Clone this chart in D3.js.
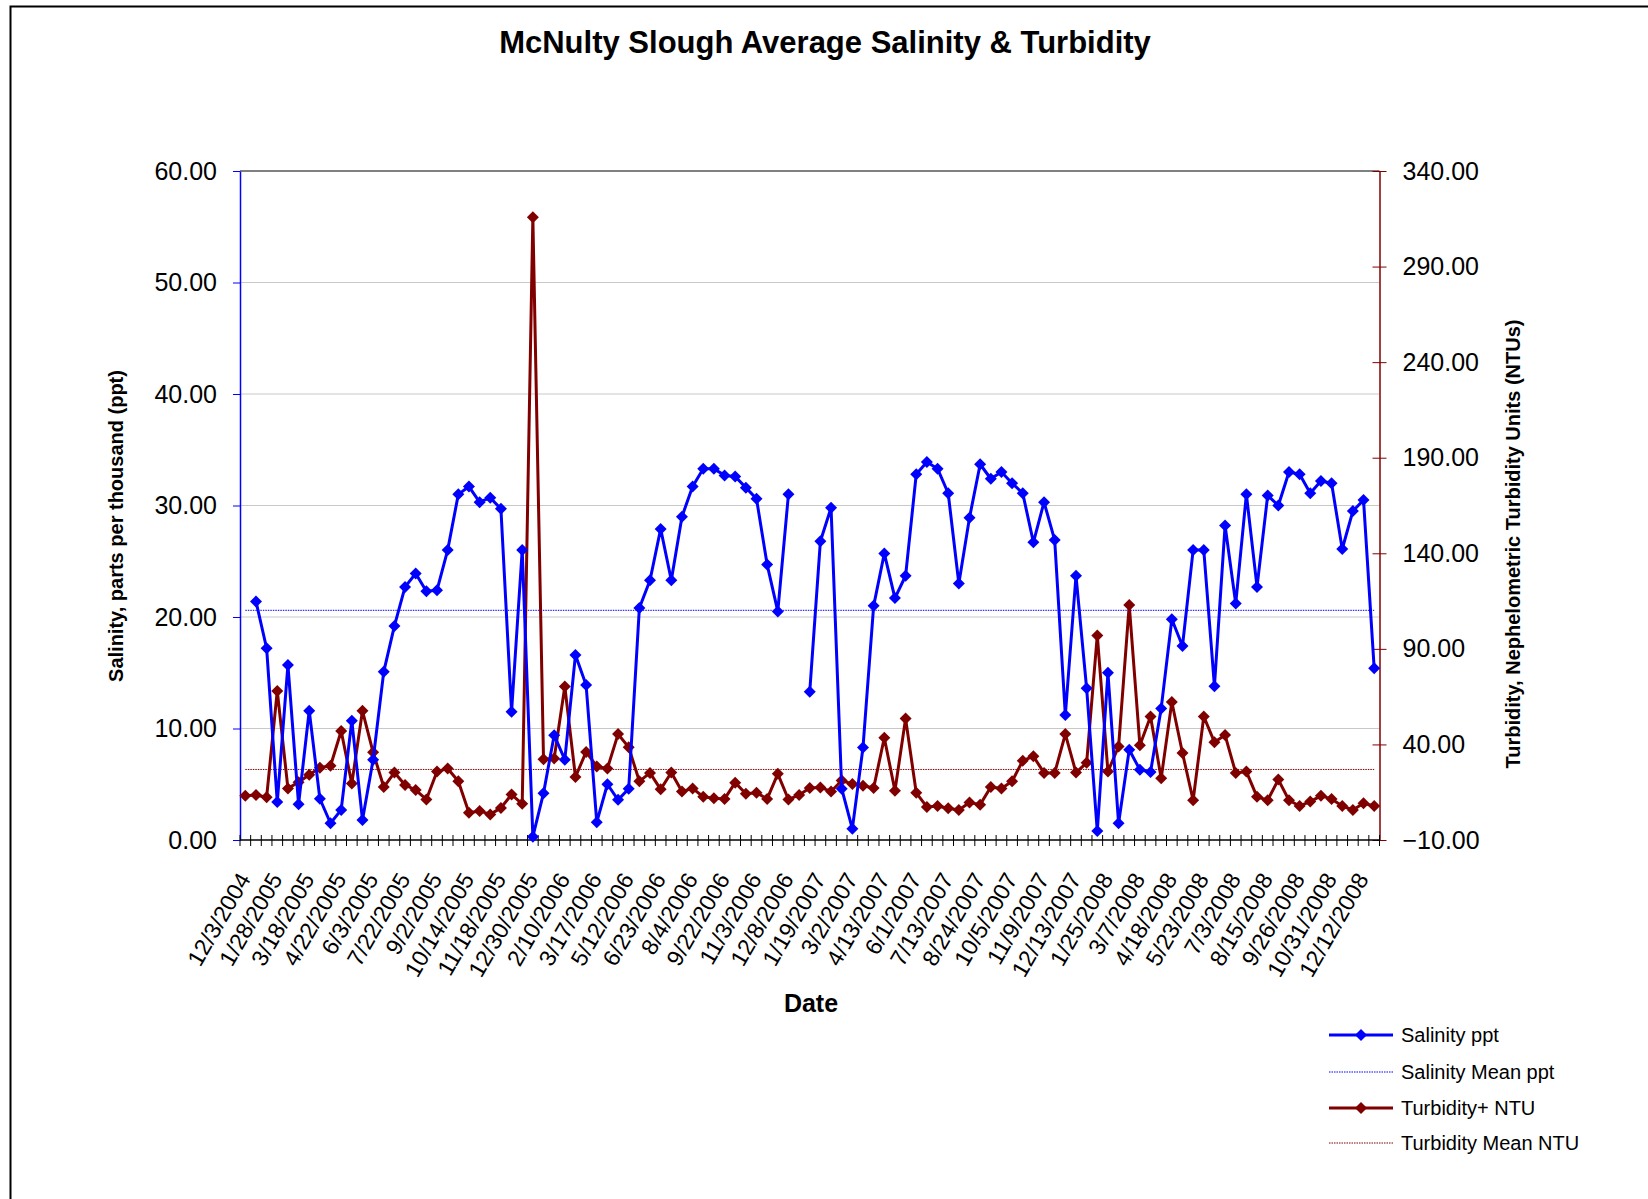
<!DOCTYPE html>
<html>
<head>
<meta charset="utf-8">
<script src="https://cdn.jsdelivr.net/npm/d3@7"></script>
<style>
body { margin: 0; background: #fff; }
text { font-family: "Liberation Sans", Arial, sans-serif; fill: #000; }
</style>
</head>
<body>
<script>
// labels shown on the date axis (every 3rd sample)
var tickLabels = ['12/3/2004', '1/28/2005', '3/18/2005', '4/22/2005', '6/3/2005', '7/22/2005',
  '9/2/2005', '10/14/2005', '11/18/2005', '12/30/2005', '2/10/2006', '3/17/2006',
  '5/12/2006', '6/23/2006', '8/4/2006', '9/22/2006', '11/3/2006', '12/8/2006',
  '1/19/2007', '3/2/2007', '4/13/2007', '6/1/2007', '7/13/2007', '8/24/2007',
  '10/5/2007', '11/9/2007', '12/13/2007', '1/25/2008', '3/7/2008', '4/18/2008',
  '5/23/2008', '7/3/2008', '8/15/2008', '9/26/2008', '10/31/2008', '12/12/2008'];

// salinity, ppt (null = no sample)
var salinity = [null, 21.4, 17.2, 3.4, 15.7, 3.2, 11.6, 3.7, 1.5, 2.7,
  10.7, 1.8, 7.2, 15.1, 19.2, 22.7, 23.9, 22.3, 22.4, 26.0,
  31.0, 31.7, 30.3, 30.7, 29.7, 11.5, 26.0, 0.3, 4.2, 9.4,
  7.2, 16.6, 13.9, 1.6, 5.0, 3.6, 4.6, 20.8, 23.3, 27.9,
  23.3, 29.0, 31.7, 33.3, 33.3, 32.7, 32.6, 31.6, 30.6, 24.7,
  20.5, 31.0, null, 13.3, 26.8, 29.8, 4.6, 1.0, 8.3, 21.0,
  25.7, 21.7, 23.7, 32.8, 33.9, 33.3, 31.1, 23.0, 28.9, 33.7,
  32.4, 33.0, 32.0, 31.1, 26.7, 30.3, 26.9, 11.2, 23.7, 13.6,
  0.8, 15.0, 1.5, 8.1, 6.3, 6.1, 11.8, 19.8, 17.4, 26.0,
  26.0, 13.8, 28.2, 21.2, 31.0, 22.7, 30.9, 30.0, 33.0, 32.8,
  31.1, 32.2, 32.0, 26.1, 29.5, 30.5, 15.4];

// turbidity, NTU
var turbidity = [13.1, 13.5, 12.4, 68.0, 17.0, 20.2, 24.1, 27.8, 28.8, 47.0,
  19.5, 57.6, 35.9, 17.7, 25.3, 18.8, 16.1, 11.2, 25.8, 27.4,
  20.7, 4.3, 5.2, 3.4, 6.8, 13.8, 8.9, 315.8, 32.2, 32.7,
  70.3, 23.0, 36.1, 28.5, 27.4, 45.4, 38.5, 20.7, 25.1, 16.5,
  25.3, 15.4, 17.0, 12.6, 11.9, 11.5, 20.0, 14.2, 14.7, 11.5,
  24.6, 11.2, 13.5, 17.2, 17.5, 15.4, 21.1, 19.3, 18.4, 17.2,
  43.5, 15.8, 53.5, 14.7, 7.3, 7.8, 6.6, 5.7, 9.6, 8.5,
  17.7, 17.0, 20.7, 31.5, 33.8, 25.1, 25.1, 45.4, 25.3, 30.4,
  97.0, 25.8, 38.9, 113.0, 39.6, 54.6, 22.3, 62.2, 35.5, 10.8,
  54.6, 41.2, 44.9, 25.1, 25.8, 12.6, 10.8, 21.6, 10.8, 7.8,
  10.1, 13.1, 11.5, 7.8, 5.7, 9.2, 7.8];

var salinityMean = 20.6;
var turbidityMean = 26.9;

var leftTicks = [0, 10, 20, 30, 40, 50, 60];
var rightTicks = [-10, 40, 90, 140, 190, 240, 290, 340];

const width = 1648, height = 1199;
const plot = { left: 240, right: 1379.5, top: 171, bottom: 840 };
const BLUE = '#0000ff', RED = '#800000';

var svg = d3.select('body').append('svg')
  .attr('width', width)
  .attr('height', height);

// outer chart frame (runs off the page to the right and bottom)
svg.append('rect')
  .attr('x', 10.5).attr('y', 6.5)
  .attr('width', 1700).attr('height', 1300)
  .attr('fill', 'none').attr('stroke', '#000').attr('stroke-width', 2);

var cats = d3.range(salinity.length);
var x = d3.scaleBand().domain(cats).range([plot.left, plot.right]);
var cx = (i) => x(i) + x.bandwidth() / 2;
var yL = d3.scaleLinear().domain([0, 60]).range([plot.bottom, plot.top]);
var yR = d3.scaleLinear().domain([-10, 340]).range([plot.bottom, plot.top]);

// gridlines
svg.append('g').selectAll('line')
  .data(leftTicks.slice(1, -1))
  .enter().append('line')
  .attr('x1', plot.left).attr('x2', plot.right)
  .attr('y1', (d) => yL(d)).attr('y2', (d) => yL(d))
  .attr('stroke', '#c8c8c8').attr('stroke-width', 1);

svg.append('line')
  .attr('x1', plot.left).attr('x2', plot.right)
  .attr('y1', yL(60)).attr('y2', yL(60))
  .attr('stroke', '#808080').attr('stroke-width', 2);

// mean lines
svg.append('line')
  .attr('x1', cx(0)).attr('x2', cx(cats.length - 1))
  .attr('y1', yL(salinityMean)).attr('y2', yL(salinityMean))
  .attr('stroke', BLUE).attr('stroke-width', 1).attr('stroke-dasharray', '1.5,1');

svg.append('line')
  .attr('x1', cx(0)).attr('x2', cx(cats.length - 1))
  .attr('y1', yR(turbidityMean)).attr('y2', yR(turbidityMean))
  .attr('stroke', RED).attr('stroke-width', 1).attr('stroke-dasharray', '1.5,1');

// left axis
var axL = svg.append('g')
  .attr('transform', `translate(${plot.left},0)`)
  .call(d3.axisLeft(yL).tickValues(leftTicks).tickFormat(d3.format('.2f'))
    .tickSize(7).tickPadding(16).tickSizeOuter(0));
axL.select('.domain').attr('stroke', BLUE).attr('stroke-width', 1.5);
axL.selectAll('.tick line').attr('stroke', BLUE);
axL.selectAll('.tick text').attr('font-size', 25).attr('fill', '#000');

// right axis
var axR = svg.append('g')
  .attr('transform', `translate(${plot.right},0)`)
  .call(d3.axisRight(yR).tickValues(rightTicks).tickFormat(d3.format('.2f'))
    .tickSize(7).tickPadding(16).tickSizeOuter(0));
axR.select('.domain').attr('stroke', RED).attr('stroke-width', 1.5);
axR.selectAll('.tick line').attr('stroke', RED).attr('x1', -7);
axR.selectAll('.tick text').attr('font-size', 25).attr('fill', '#000');

// bottom category axis
var axB = svg.append('g');
axB.append('line')
  .attr('x1', plot.left).attr('x2', plot.right)
  .attr('y1', plot.bottom).attr('y2', plot.bottom)
  .attr('stroke', '#000').attr('stroke-width', 1.5);
axB.selectAll('.tk')
  .data(d3.range(cats.length + 1))
  .enter().append('line')
  .attr('class', 'tk')
  .attr('x1', (i) => plot.left + i * x.step()).attr('x2', (i) => plot.left + i * x.step())
  .attr('y1', plot.bottom - 5).attr('y2', plot.bottom + 6)
  .attr('stroke', '#000').attr('stroke-width', 1);
axB.selectAll('.lbl')
  .data(tickLabels)
  .enter().append('text')
  .attr('class', 'lbl')
  .attr('transform', (d, k) => `translate(${cx(k * 3) - 1},${plot.bottom + 35}) rotate(-60)`)
  .attr('text-anchor', 'end')
  .attr('dy', '0.35em')
  .attr('font-size', 23)
  .text((d) => d);

// series
var diamond = 'M0,-6L6,0L0,6L-6,0Z';

svg.append('path')
  .datum(turbidity)
  .attr('fill', 'none').attr('stroke', RED).attr('stroke-width', 3)
  .attr('stroke-linejoin', 'round')
  .attr('d', d3.line().defined((d) => d != null).x((d, i) => cx(i)).y((d) => yR(d)));

svg.append('g').selectAll('path')
  .data(turbidity.map((v, i) => [i, v]).filter((p) => p[1] != null))
  .enter().append('path')
  .attr('d', diamond)
  .attr('transform', (p) => `translate(${cx(p[0])},${yR(p[1])})`)
  .attr('fill', RED);

svg.append('path')
  .datum(salinity)
  .attr('fill', 'none').attr('stroke', BLUE).attr('stroke-width', 3)
  .attr('stroke-linejoin', 'round')
  .attr('d', d3.line().defined((d) => d != null).x((d, i) => cx(i)).y((d) => yL(d)));

svg.append('g').selectAll('path')
  .data(salinity.map((v, i) => [i, v]).filter((p) => p[1] != null))
  .enter().append('path')
  .attr('d', diamond)
  .attr('transform', (p) => `translate(${cx(p[0])},${yL(p[1])})`)
  .attr('fill', BLUE);

// titles
svg.append('text')
  .attr('x', 825).attr('y', 53)
  .attr('text-anchor', 'middle')
  .attr('font-size', 31).attr('font-weight', 'bold')
  .text('McNulty Slough Average Salinity & Turbidity');

svg.append('text')
  .attr('x', 811).attr('y', 1012)
  .attr('text-anchor', 'middle')
  .attr('font-size', 25).attr('font-weight', 'bold')
  .text('Date');

svg.append('text')
  .attr('transform', 'translate(116,526) rotate(-90)')
  .attr('text-anchor', 'middle').attr('dy', '0.35em')
  .attr('font-size', 20).attr('font-weight', 'bold')
  .text('Salinity, parts per thousand (ppt)');

svg.append('text')
  .attr('transform', 'translate(1513,544) rotate(-90)')
  .attr('text-anchor', 'middle').attr('dy', '0.35em')
  .attr('font-size', 20).attr('font-weight', 'bold')
  .text('Turbidity, Nephelometric Turbidity Units (NTUs)');

// legend
var legend = [
  { name: 'Salinity ppt', color: BLUE, marker: true },
  { name: 'Salinity Mean ppt', color: BLUE, marker: false },
  { name: 'Turbidity+ NTU', color: RED, marker: true },
  { name: 'Turbidity Mean NTU', color: RED, marker: false }
];
var legendY = [1035, 1072, 1108, 1143];

var lg = svg.append('g').selectAll('g')
  .data(legend)
  .enter().append('g')
  .attr('transform', (d, i) => `translate(1329,${legendY[i]})`);

lg.append('line')
  .attr('x1', 0).attr('x2', 64)
  .attr('stroke', (d) => d.color)
  .attr('stroke-width', (d) => d.marker ? 3 : 1)
  .attr('stroke-dasharray', (d) => d.marker ? null : '1.5,1');

lg.filter((d) => d.marker).append('path')
  .attr('d', diamond)
  .attr('transform', 'translate(32,0)')
  .attr('fill', (d) => d.color);

lg.append('text')
  .attr('x', 72).attr('dy', '0.35em')
  .attr('font-size', 20)
  .text((d) => d.name);
</script>
</body>
</html>
